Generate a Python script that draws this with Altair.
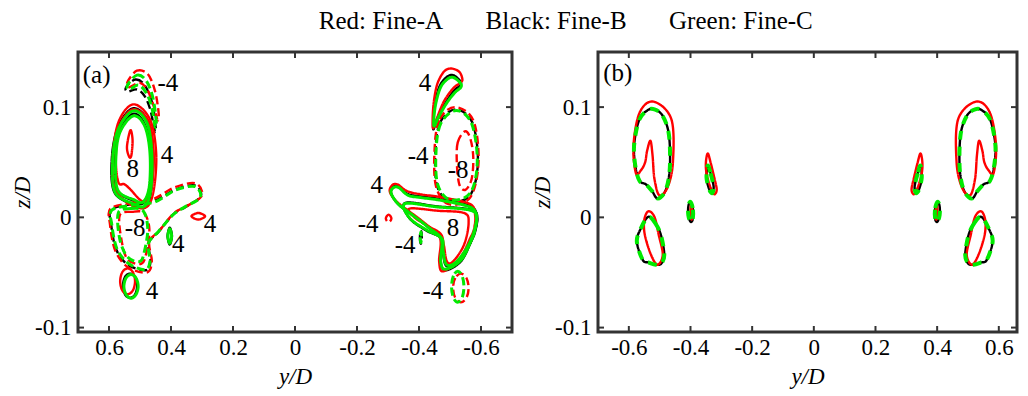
import altair as alt
import pandas as pd

# ---------------- axis ticks ----------------
x_ticks = [-0.6, -0.4, -0.2, 0, 0.2, 0.4, 0.6]
y_ticks = [-0.1, 0, 0.1]
x_domain_a = [-0.7, 0.7]
x_domain_b = [-0.7, 0.659]
y_domain = [-0.104, 0.15]

series_names = ["Fine-A", "Fine-B", "Fine-C"]
series_colors = ["#ff0000", "#000000", "#00ea00"]

# ================= Panel (a) =================
# left vortex (positive, levels 4 and 8)
a_A_vortL4 = [(0.522, 0.1025), (0.468, 0.089), (0.448, 0.059), (0.455, 0.026), (0.478, 0.0095),
              (0.527, 0.011), (0.581, 0.026), (0.588, 0.053), (0.57, 0.086)]
a_A_vortL8 = [(0.522, 0.098), (0.472, 0.087), (0.456, 0.059), (0.462, 0.028), (0.48, 0.015),
              (0.5, 0.016), (0.53, 0.025), (0.55, 0.03), (0.57, 0.032), (0.578, 0.055), (0.565, 0.083)]
a_A_vortL8b = [(0.531, 0.079), (0.524, 0.07), (0.528, 0.056), (0.535, 0.055), (0.542, 0.064)]
a_B_vortL4 = [(0.522, 0.099), (0.474, 0.087), (0.458, 0.059), (0.463, 0.026), (0.482, 0.0095),
              (0.522, 0.0115), (0.583, 0.023), (0.591, 0.053), (0.571, 0.082)]
a_B_vortL8 = [(0.522, 0.094), (0.484, 0.084), (0.466, 0.059), (0.469, 0.028), (0.489, 0.013),
              (0.52, 0.015), (0.574, 0.025), (0.58, 0.053), (0.566, 0.078)]
a_C_vortL4 = [(0.522, 0.0966), (0.478, 0.086), (0.462, 0.059), (0.465, 0.026), (0.484, 0.0104),
              (0.522, 0.0124), (0.581, 0.023), (0.588, 0.053), (0.57, 0.08)]
a_C_vortL8 = [(0.522, 0.092), (0.485, 0.083), (0.468, 0.059), (0.47, 0.028), (0.49, 0.014),
              (0.52, 0.016), (0.572, 0.025), (0.578, 0.053), (0.565, 0.077)]

# top-left negative crescent (-4)
a_A_crescL = [(0.54, 0.123), (0.51, 0.133), (0.475, 0.13), (0.452, 0.115), (0.44, 0.095),
              (0.443, 0.088), (0.455, 0.1), (0.475, 0.115), (0.5, 0.122), (0.535, 0.118)]
a_B_crescL = [(0.545, 0.118), (0.515, 0.125), (0.485, 0.12), (0.46, 0.103), (0.449, 0.08),
              (0.454, 0.08), (0.466, 0.097), (0.485, 0.11), (0.51, 0.116), (0.54, 0.114)]
a_C_crescL = [(0.54, 0.12), (0.51, 0.129), (0.48, 0.124), (0.458, 0.108), (0.447, 0.085),
              (0.452, 0.083), (0.462, 0.1), (0.48, 0.113), (0.505, 0.12), (0.535, 0.116)]

# negative region near (0.52, -0.01): -4 and -8
a_A_negL4 = [(0.595, 0.008), (0.53, 0.013), (0.455, 0.017), (0.39, 0.027), (0.322, 0.031),
             (0.3, 0.02), (0.35, 0.01), (0.39, 0.004), (0.437, -0.012), (0.47, -0.022),
             (0.462, -0.04), (0.478, -0.05), (0.54, -0.045), (0.58, -0.03), (0.597, -0.006)]
a_B_negL4 = [(0.593, 0.007), (0.528, 0.012), (0.453, 0.015), (0.388, 0.025), (0.323, 0.029),
             (0.304, 0.019), (0.353, 0.0095), (0.392, 0.003), (0.44, -0.013), (0.472, -0.023),
             (0.466, -0.04), (0.482, -0.048), (0.539, -0.043), (0.577, -0.029), (0.593, -0.0066)]
a_C_negL4 = [(0.591, 0.0065), (0.527, 0.011), (0.452, 0.014), (0.387, 0.0245), (0.323, 0.028),
             (0.306, 0.018), (0.355, 0.0095), (0.393, 0.0024), (0.441, -0.013), (0.473, -0.0236),
             (0.468, -0.04), (0.484, -0.0476), (0.538, -0.0416), (0.575, -0.028), (0.591, -0.0066)]
a_A_negL8 = [(0.565, 0.002), (0.525, 0.005), (0.487, 0.004), (0.47, -0.01), (0.478, -0.03),
             (0.495, -0.042), (0.54, -0.038), (0.56, -0.02)]
a_C_negL8 = [(0.57, 0.004), (0.53, 0.008), (0.49, 0.006), (0.475, -0.01), (0.485, -0.03),
             (0.5, -0.04), (0.54, -0.036), (0.565, -0.02)]

# small positive islands (4)
a_A_islandL = [(0.334, 0.001), (0.312, 0.004), (0.29, 0.001), (0.312, -0.002)]
a_B_islandL = [(0.404, -0.0094), (0.397, -0.017), (0.404, -0.0246), (0.411, -0.017)]
a_C_islandL = [(0.404, -0.0104), (0.398, -0.017), (0.404, -0.0236), (0.41, -0.017)]

# lower-left positive loop (4)
a_A_lowL = [(0.54, -0.0463), (0.523, -0.0497), (0.516, -0.058), (0.523, -0.0663),
            (0.54, -0.0697), (0.557, -0.0663), (0.564, -0.058), (0.557, -0.0497)]
a_B_lowL = [(0.532, -0.051), (0.516, -0.054), (0.509, -0.062), (0.516, -0.07),
            (0.532, -0.073), (0.548, -0.07), (0.555, -0.062), (0.548, -0.054)]
a_C_lowL = [(0.529, -0.0518), (0.513, -0.055), (0.506, -0.0626), (0.513, -0.07),
            (0.529, -0.0734), (0.545, -0.07), (0.552, -0.0626), (0.545, -0.055)]

# right top positive crescent (4)
a_A_crescR = [(-0.445, 0.081), (-0.446, 0.1), (-0.458, 0.12), (-0.48, 0.132), (-0.503, 0.135),
              (-0.53, 0.132), (-0.54, 0.125), (-0.533, 0.122), (-0.51, 0.117), (-0.48, 0.105),
              (-0.458, 0.09)]
a_B_crescR = [(-0.446, 0.08), (-0.45, 0.1), (-0.465, 0.118), (-0.488, 0.127), (-0.51, 0.129),
              (-0.532, 0.124), (-0.534, 0.12), (-0.513, 0.115), (-0.488, 0.105), (-0.462, 0.092)]
a_C_crescR = [(-0.448, 0.083), (-0.452, 0.1), (-0.468, 0.117), (-0.49, 0.125), (-0.51, 0.127),
              (-0.533, 0.122), (-0.535, 0.118), (-0.515, 0.113), (-0.49, 0.104), (-0.465, 0.092)]

# right negative ellipse (-4, -8)
a_A_ellR4 = [(-0.515, 0.1), (-0.465, 0.088), (-0.45, 0.06), (-0.455, 0.028), (-0.495, 0.012),
             (-0.565, 0.018), (-0.592, 0.05), (-0.575, 0.088)]
a_B_ellR4 = [(-0.518, 0.098), (-0.468, 0.086), (-0.453, 0.06), (-0.458, 0.029), (-0.498, 0.015),
             (-0.565, 0.02), (-0.59, 0.05), (-0.572, 0.086)]
a_C_ellR4 = [(-0.52, 0.097), (-0.47, 0.085), (-0.455, 0.06), (-0.46, 0.03), (-0.5, 0.016),
             (-0.565, 0.022), (-0.588, 0.05), (-0.57, 0.085)]
a_A_ellR8 = [(-0.548, 0.078), (-0.525, 0.068), (-0.522, 0.05), (-0.53, 0.03), (-0.55, 0.025),
             (-0.57, 0.035), (-0.575, 0.055), (-0.565, 0.072)]

# right positive region (4 and 8)
a_A_posR4 = [(-0.306, 0.023), (-0.313, 0.029), (-0.33, 0.03), (-0.36, 0.024), (-0.403, 0.021),
             (-0.478, 0.018), (-0.565, 0.012), (-0.581, 0.002), (-0.578, -0.01), (-0.565, -0.019),
             (-0.532, -0.037), (-0.478, -0.049), (-0.465, -0.04), (-0.468, -0.019), (-0.426, -0.007),
             (-0.371, 0.005), (-0.329, 0.014)]
a_A_posR8 = [(-0.37, 0.008), (-0.46, 0.006), (-0.545, 0.004), (-0.56, -0.005), (-0.545, -0.025),
             (-0.51, -0.04), (-0.49, -0.04), (-0.48, -0.025), (-0.47, -0.015), (-0.43, -0.008),
             (-0.385, 0.0)]
a_B_posR4 = [(-0.31, 0.022), (-0.318, 0.028), (-0.335, 0.028), (-0.365, 0.021), (-0.405, 0.019),
             (-0.48, 0.016), (-0.568, 0.01), (-0.587, 0.0), (-0.582, -0.012), (-0.568, -0.022),
             (-0.535, -0.04), (-0.485, -0.048), (-0.47, -0.04), (-0.472, -0.02), (-0.43, -0.009),
             (-0.375, 0.003), (-0.333, 0.012)]
a_B_posR8 = [(-0.355, 0.013), (-0.457, 0.01), (-0.565, 0.007), (-0.588, -0.001), (-0.566, -0.023),
             (-0.522, -0.041), (-0.488, -0.044), (-0.477, -0.031), (-0.472, -0.019), (-0.424, -0.012),
             (-0.37, -0.001)]
a_C_posR4 = [(-0.31, 0.022), (-0.318, 0.027), (-0.335, 0.027), (-0.365, 0.02), (-0.405, 0.018),
             (-0.48, 0.015), (-0.567, 0.009), (-0.585, 0.0), (-0.58, -0.012), (-0.567, -0.022),
             (-0.535, -0.039), (-0.485, -0.047), (-0.47, -0.04), (-0.472, -0.02), (-0.43, -0.009),
             (-0.375, 0.003), (-0.333, 0.012)]
a_C_posR8 = [(-0.355, 0.0124), (-0.457, 0.0095), (-0.565, 0.0065), (-0.586, -0.001), (-0.565, -0.022),
             (-0.522, -0.04), (-0.489, -0.043), (-0.478, -0.031), (-0.473, -0.019), (-0.425, -0.0115),
             (-0.371, -0.001)]

# small negative pieces
a_A_negSmall1 = [(-0.293, -0.001), (-0.302, 0.0025), (-0.311, -0.001), (-0.302, -0.0045)]
a_B_negSmall2 = [(-0.406, -0.012), (-0.403, -0.018), (-0.406, -0.024), (-0.409, -0.018)]
a_C_negSmall2 = [(-0.406, -0.013), (-0.404, -0.018), (-0.406, -0.023), (-0.408, -0.018)]
a_A_negLowR = [(-0.535, -0.051), (-0.517, -0.055), (-0.51, -0.064), (-0.517, -0.073),
               (-0.535, -0.077), (-0.553, -0.073), (-0.56, -0.064), (-0.553, -0.055)]
a_C_negLowR = [(-0.525, -0.049), (-0.511, -0.053), (-0.505, -0.063), (-0.511, -0.073),
               (-0.525, -0.077), (-0.539, -0.073), (-0.545, -0.063), (-0.539, -0.053)]

# ================= Panel (b) =================
b_A_bigL = [(-0.577, 0.04), (-0.56, 0.043), (-0.547, 0.05), (-0.541, 0.06), (-0.53, 0.0695),
            (-0.523, 0.056), (-0.517, 0.035), (-0.501, 0.02), (-0.474, 0.0275), (-0.457, 0.05),
            (-0.462, 0.089), (-0.52, 0.105), (-0.565, 0.095), (-0.585, 0.065)]
b_B_bigL = [(-0.517, 0.098), (-0.49, 0.092), (-0.47, 0.075), (-0.467, 0.045), (-0.48, 0.025),
            (-0.506, 0.017), (-0.525, 0.024), (-0.545, 0.03), (-0.565, 0.033), (-0.578, 0.045),
            (-0.583, 0.065), (-0.567, 0.088), (-0.54, 0.097)]
b_C_bigL = [(-0.517, 0.098), (-0.49, 0.092), (-0.47, 0.075), (-0.467, 0.045), (-0.48, 0.025),
            (-0.506, 0.017), (-0.525, 0.024), (-0.545, 0.03), (-0.565, 0.033), (-0.578, 0.045),
            (-0.583, 0.065), (-0.567, 0.088), (-0.54, 0.097)]
b_A_lowL = [(-0.537, 0.0055), (-0.517, 0.0005), (-0.503, -0.016), (-0.49, -0.034), (-0.507, -0.043),
            (-0.528, -0.034), (-0.548, -0.016), (-0.55, -0.0025)]
b_B_lowL = [(-0.537, 0.0005), (-0.515, -0.005), (-0.496, -0.016), (-0.485, -0.034), (-0.495, -0.042),
            (-0.512, -0.043), (-0.535, -0.041), (-0.555, -0.0386), (-0.574, -0.022), (-0.561, -0.01)]
b_C_lowL = [(-0.537, 0.0005), (-0.515, -0.005), (-0.496, -0.016), (-0.485, -0.034), (-0.495, -0.042),
            (-0.512, -0.043), (-0.535, -0.041), (-0.555, -0.0386), (-0.574, -0.022), (-0.561, -0.01)]
b_A_smallL = [(-0.398, 0.012), (-0.394, 0.005), (-0.396, -0.002), (-0.4, 0.004)]
b_B_smallL = [(-0.4, 0.014), (-0.392, 0.007), (-0.393, -0.002), (-0.4, -0.004), (-0.407, 0.002), (-0.407, 0.01)]
b_C_smallL = [(-0.4, 0.014), (-0.392, 0.007), (-0.393, -0.002), (-0.4, -0.004), (-0.407, 0.002), (-0.407, 0.01)]
b_A_dropL = [(-0.344, 0.058), (-0.335, 0.05), (-0.322, 0.035), (-0.315, 0.025), (-0.323, 0.021),
             (-0.335, 0.027), (-0.348, 0.04), (-0.35, 0.05)]
b_B_dropL = [(-0.344, 0.047), (-0.335, 0.04), (-0.325, 0.028), (-0.33, 0.022), (-0.34, 0.026), (-0.348, 0.036)]
b_C_dropL = [(-0.344, 0.047), (-0.335, 0.04), (-0.325, 0.028), (-0.33, 0.022), (-0.34, 0.026), (-0.348, 0.036)]

b_A_bigR = [(0.583, 0.04), (0.566, 0.043), (0.553, 0.05), (0.547, 0.06), (0.536, 0.0695),
            (0.529, 0.056), (0.523, 0.035), (0.507, 0.02), (0.48, 0.0275), (0.463, 0.05),
            (0.468, 0.089), (0.526, 0.105), (0.571, 0.095), (0.591, 0.065)]
b_B_bigR = [(0.523, 0.098), (0.496, 0.092), (0.476, 0.075), (0.473, 0.045), (0.486, 0.025),
            (0.512, 0.017), (0.531, 0.024), (0.551, 0.03), (0.571, 0.033), (0.584, 0.045),
            (0.589, 0.065), (0.573, 0.088), (0.546, 0.097)]
b_C_bigR = [(0.523, 0.098), (0.496, 0.092), (0.476, 0.075), (0.473, 0.045), (0.486, 0.025),
            (0.512, 0.017), (0.531, 0.024), (0.551, 0.03), (0.571, 0.033), (0.584, 0.045),
            (0.589, 0.065), (0.573, 0.088), (0.546, 0.097)]
b_A_lowR = [(0.543, 0.0055), (0.523, 0.0005), (0.509, -0.016), (0.496, -0.034), (0.513, -0.043),
            (0.534, -0.034), (0.554, -0.016), (0.556, -0.0025)]
b_B_lowR = [(0.543, 0.0005), (0.521, -0.005), (0.502, -0.016), (0.491, -0.034), (0.501, -0.042),
            (0.518, -0.043), (0.541, -0.041), (0.561, -0.0386), (0.58, -0.022), (0.567, -0.01)]
b_C_lowR = [(0.543, 0.0005), (0.521, -0.005), (0.502, -0.016), (0.491, -0.034), (0.501, -0.042),
            (0.518, -0.043), (0.541, -0.041), (0.561, -0.0386), (0.58, -0.022), (0.567, -0.01)]
b_A_smallR = [(0.399, 0.012), (0.395, 0.005), (0.397, -0.002), (0.401, 0.004)]
b_B_smallR = [(0.401, 0.014), (0.393, 0.007), (0.394, -0.002), (0.401, -0.004), (0.408, 0.002), (0.408, 0.01)]
b_C_smallR = [(0.401, 0.014), (0.393, 0.007), (0.394, -0.002), (0.401, -0.004), (0.408, 0.002), (0.408, 0.01)]
b_A_dropR = [(0.346, 0.058), (0.337, 0.05), (0.324, 0.035), (0.317, 0.025), (0.325, 0.021),
             (0.337, 0.027), (0.35, 0.04), (0.352, 0.05)]
b_B_dropR = [(0.346, 0.047), (0.337, 0.04), (0.327, 0.028), (0.332, 0.022), (0.342, 0.026), (0.35, 0.036)]
b_C_dropR = [(0.346, 0.047), (0.337, 0.04), (0.327, 0.028), (0.332, 0.022), (0.342, 0.026), (0.35, 0.036)]

# ---------------- contour labels ----------------
a_label_text = ["-4", "4", "8", "-8", "4", "4", "4",
                "4", "-4", "-8", "4", "-4", "8", "-4", "-4", "(a)"]
a_label_y = [0.41, 0.413, 0.523, 0.516, 0.274, 0.377, 0.461,
             -0.419, -0.397, -0.526, -0.264, -0.236, -0.51, -0.355, -0.445, 0.64]
a_label_z = [0.122, 0.057, 0.044, -0.01, -0.006, -0.024, -0.067,
             0.122, 0.056, 0.043, 0.029, -0.006, -0.01, -0.025, -0.067, 0.129]
b_label_text = ["(b)"]
b_label_y = [-0.636]
b_label_z = [0.131]

# (panel, series, style, points)
curves = [
    ("a", "Fine-A", "solid", a_A_vortL4), ("a", "Fine-A", "solid", a_A_vortL8), ("a", "Fine-A", "solid", a_A_vortL8b),
    ("a", "Fine-B", "solid", a_B_vortL4), ("a", "Fine-B", "solid", a_B_vortL8),
    ("a", "Fine-C", "solid", a_C_vortL4), ("a", "Fine-C", "solid", a_C_vortL8),
    ("a", "Fine-A", "dash", a_A_crescL), ("a", "Fine-B", "dash", a_B_crescL), ("a", "Fine-C", "dash", a_C_crescL),
    ("a", "Fine-A", "dash", a_A_negL4), ("a", "Fine-B", "dash", a_B_negL4), ("a", "Fine-C", "dash", a_C_negL4),
    ("a", "Fine-A", "dash", a_A_negL8), ("a", "Fine-C", "dash", a_C_negL8),
    ("a", "Fine-A", "solid", a_A_islandL), ("a", "Fine-B", "solid", a_B_islandL), ("a", "Fine-C", "solid", a_C_islandL),
    ("a", "Fine-A", "solid", a_A_lowL), ("a", "Fine-B", "solid", a_B_lowL), ("a", "Fine-C", "solid", a_C_lowL),
    ("a", "Fine-A", "solid", a_A_crescR), ("a", "Fine-B", "solid", a_B_crescR), ("a", "Fine-C", "solid", a_C_crescR),
    ("a", "Fine-A", "dash", a_A_ellR4), ("a", "Fine-B", "dash", a_B_ellR4), ("a", "Fine-C", "dash", a_C_ellR4),
    ("a", "Fine-A", "dash", a_A_ellR8),
    ("a", "Fine-A", "solid", a_A_posR4), ("a", "Fine-A", "solid", a_A_posR8),
    ("a", "Fine-B", "solid", a_B_posR4), ("a", "Fine-B", "solid", a_B_posR8),
    ("a", "Fine-C", "solid", a_C_posR4), ("a", "Fine-C", "solid", a_C_posR8),
    ("a", "Fine-A", "dash", a_A_negSmall1), ("a", "Fine-B", "dash", a_B_negSmall2), ("a", "Fine-C", "dash", a_C_negSmall2),
    ("a", "Fine-A", "dash", a_A_negLowR), ("a", "Fine-C", "dash", a_C_negLowR),
    ("b", "Fine-A", "solid", b_A_bigL), ("b", "Fine-B", "solid", b_B_bigL), ("b", "Fine-C", "dashb", b_C_bigL),
    ("b", "Fine-A", "solid", b_A_lowL), ("b", "Fine-B", "solid", b_B_lowL), ("b", "Fine-C", "dashb", b_C_lowL),
    ("b", "Fine-A", "solid", b_A_smallL), ("b", "Fine-B", "solid", b_B_smallL), ("b", "Fine-C", "dashb", b_C_smallL),
    ("b", "Fine-A", "solid", b_A_dropL), ("b", "Fine-B", "solid", b_B_dropL), ("b", "Fine-C", "dashb", b_C_dropL),
    ("b", "Fine-A", "solid", b_A_bigR), ("b", "Fine-B", "solid", b_B_bigR), ("b", "Fine-C", "dashb", b_C_bigR),
    ("b", "Fine-A", "solid", b_A_lowR), ("b", "Fine-B", "solid", b_B_lowR), ("b", "Fine-C", "dashb", b_C_lowR),
    ("b", "Fine-A", "solid", b_A_smallR), ("b", "Fine-B", "solid", b_B_smallR), ("b", "Fine-C", "dashb", b_C_smallR),
    ("b", "Fine-A", "solid", b_A_dropR), ("b", "Fine-B", "solid", b_B_dropR), ("b", "Fine-C", "dashb", b_C_dropR),
]

rows = []
for cid, (panel, ser, style, pts) in enumerate(curves):
    for i, (yv, zv) in enumerate(pts):
        rows.append({"panel": panel, "series": ser, "style": style, "curve": cid, "idx": i, "yD": yv, "zD": zv})
df = pd.DataFrame(rows)

FONT = "Liberation Serif"
TICK = "#333333"
dash_scale = alt.Scale(domain=["solid", "dash", "dashb"], range=[[1, 0], [8, 4], [9, 7]])
PH = 280  # plot height


def panel_chart(panel, reverse, labels, width, xdom):
    sx = alt.Scale(domain=xdom, reverse=reverse, nice=False, zero=False)
    sy = alt.Scale(domain=y_domain, nice=False, zero=False)
    data = df[df["panel"] == panel]
    base = alt.Chart(data)
    ax_bottom = alt.Axis(orient="bottom", values=x_ticks, labelExpr="datum.value + ''", title="y/D",
                         titleFontStyle="italic", titleFontSize=23, domain=False, grid=False, ticks=False,
                         labelPadding=4, titlePadding=6, labelOverlap=False, labelFlush=False)
    ax_left = alt.Axis(orient="left", values=y_ticks, labelExpr="datum.value + ''", title="z/D",
                       titleFontStyle="italic", titleFontSize=23, domain=False, grid=False, ticks=False,
                       labelPadding=7, titlePadding=0, labelOverlap=False, labelFlush=False)

    axes_layer = base.mark_point(opacity=0).encode(
        x=alt.X("yD:Q", scale=sx, axis=ax_bottom),
        y=alt.Y("zD:Q", scale=sy, axis=ax_left),
    )
    layers = [axes_layer]

    # inward tick marks on all four sides
    xt = alt.Chart(pd.DataFrame({"t": x_ticks}))
    yt = alt.Chart(pd.DataFrame({"t": y_ticks}))
    layers.append(xt.mark_rule(color=TICK, strokeWidth=2).encode(
        x=alt.X("t:Q", scale=sx, axis=None), y=alt.value(0), y2=alt.value(6)))
    layers.append(xt.mark_rule(color=TICK, strokeWidth=2).encode(
        x=alt.X("t:Q", scale=sx, axis=None), y=alt.value(PH), y2=alt.value(PH - 6)))
    layers.append(yt.mark_rule(color=TICK, strokeWidth=2).encode(
        y=alt.Y("t:Q", scale=sy, axis=None), x=alt.value(0), x2=alt.value(6)))
    layers.append(yt.mark_rule(color=TICK, strokeWidth=2).encode(
        y=alt.Y("t:Q", scale=sy, axis=None), x=alt.value(width), x2=alt.value(width - 6)))

    widths = {"Fine-B": 2.4, "Fine-A": 2.4, "Fine-C": 3.0 if panel == "a" else 4.0}
    for ser in ["Fine-B", "Fine-A", "Fine-C"]:
        layers.append(
            base.transform_filter(alt.datum.series == ser).mark_line(
                interpolate="cardinal-closed", strokeWidth=widths[ser]
            ).encode(
                x=alt.X("yD:Q", scale=sx, axis=None),
                y=alt.Y("zD:Q", scale=sy, axis=None),
                detail="curve:N",
                order="idx:Q",
                color=alt.Color("series:N", scale=alt.Scale(domain=series_names, range=series_colors), legend=None),
                strokeDash=alt.StrokeDash("style:N", scale=dash_scale, legend=None),
            )
        )
    lab_df = pd.DataFrame({"t": labels[0], "yD": labels[1], "zD": labels[2]})
    layers.append(
        alt.Chart(lab_df).mark_text(font=FONT, fontSize=25, color="black").encode(
            x=alt.X("yD:Q", scale=sx, axis=None),
            y=alt.Y("zD:Q", scale=sy, axis=None),
            text="t:N",
        )
    )
    return alt.layer(*layers).resolve_axis(x="independent", y="independent").properties(width=width, height=PH)


pa = panel_chart("a", True, (a_label_text, a_label_y, a_label_z), 434, x_domain_a)
pb = panel_chart("b", False, (b_label_text, b_label_y, b_label_z), 419, x_domain_b)

chart = alt.hconcat(pa, pb, spacing=15).properties(
    title=alt.TitleParams(
        text="Red: Fine-A\u2003\u2002\u2009Black: Fine-B\u2003\u2002\u2009Green: Fine-C",
        font=FONT, fontSize=25, fontWeight="normal", anchor="middle", dx=51, offset=16, color="black",
    ),
    padding={"left": 2, "top": 0, "right": 0, "bottom": 0},
).configure_view(stroke="#333333", strokeWidth=3).configure_axis(
    labelFont=FONT, labelFontSize=23, titleFont=FONT, titleFontSize=23, titleFontWeight="normal",
    labelColor="black", titleColor="black",
)

chart.save("out.html", embed_options={"renderer": "svg", "actions": False})
